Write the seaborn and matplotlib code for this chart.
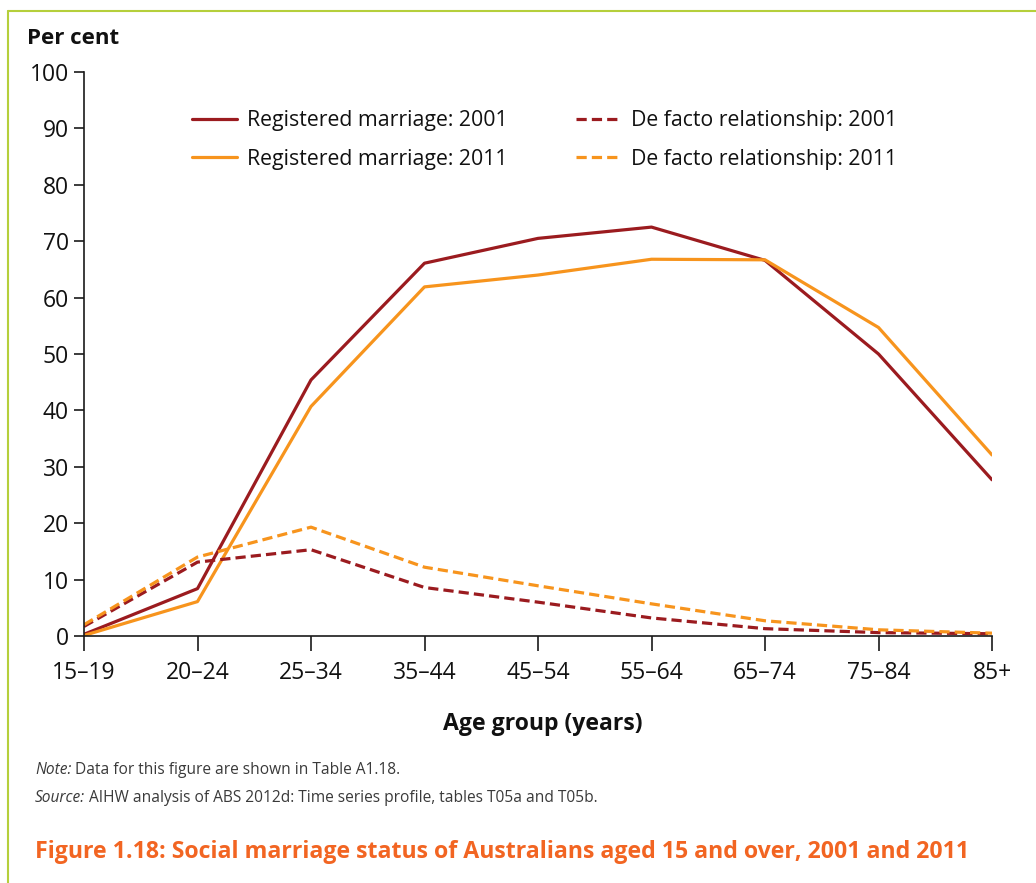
import matplotlib
matplotlib.use("Agg")
import matplotlib.pyplot as plt
from matplotlib.lines import Line2D
import seaborn as sns

sns.set_theme(style="white")
plt.rcParams["font.family"] = ["Open Sans", "DejaVu Sans"]

age_groups = ["15–19", "20–24", "25–34", "35–44", "45–54", "55–64", "65–74", "75–84", "85+"]
married_2001 = [0.3, 8.4, 45.4, 66.1, 70.5, 72.5, 66.6, 50.0, 27.7]
married_2011 = [0.1, 6.1, 40.7, 61.9, 64.0, 66.8, 66.7, 54.7, 32.1]
defacto_2001 = [1.7, 13.1, 15.3, 8.6, 6.0, 3.2, 1.3, 0.6, 0.4]
defacto_2011 = [2.0, 14.0, 19.3, 12.2, 8.9, 5.7, 2.7, 1.1, 0.5]

RED = "#9b1b1f"
ORANGE = "#f7941d"
W, H = 1036, 883

fig = plt.figure(figsize=(W / 100, H / 100), dpi=100)
ax = fig.add_axes([84 / W, 1 - 636 / H, (992 - 84) / W, (636 - 72) / H])

series = [
    (married_2001, RED, "-", "Registered marriage: 2001"),
    (married_2011, ORANGE, "-", "Registered marriage: 2011"),
    (defacto_2001, RED, "--", "De facto relationship: 2001"),
    (defacto_2011, ORANGE, "--", "De facto relationship: 2011"),
]
for vals, col, ls, lab in series:
    sns.lineplot(x=age_groups, y=vals, ax=ax, color=col, linewidth=2.3,
                 label=lab, sort=False)
    if ls == "--":
        ax.lines[-1].set_dashes((3.2, 1.6))

ax.set_xlim(0, len(age_groups) - 1)
ax.set_ylim(0, 100)
ax.set_yticks(range(0, 101, 10))
for s in ["top", "right"]:
    ax.spines[s].set_visible(False)
for s in ["left", "bottom"]:
    ax.spines[s].set_color("#1a1a1a")
    ax.spines[s].set_linewidth(1.2)
ax.tick_params(axis="y", direction="out", length=7, width=1.2, color="#1a1a1a",
               labelsize=16.5, pad=4, left=True, labelcolor="#111111")
ax.tick_params(axis="x", direction="out", length=11, width=1.2, color="#1a1a1a",
               labelsize=16.5, pad=7, bottom=True, labelcolor="#111111")
ax.set_xlabel("")
ax.set_ylabel("")

handles, labels = ax.get_legend_handles_labels()
leg = ax.legend(handles, labels, ncol=2, frameon=False, fontsize=15.3,
                loc="upper left", bbox_to_anchor=(0.098, 0.966),
                handlelength=2.1, handletextpad=0.5, columnspacing=3.2,
                labelspacing=0.82, labelcolor="#111111")
for line in leg.get_lines():
    line.set_linewidth(2.3)

fig.text(27 / W, 1 - 38 / H, "Per cent", fontsize=16, fontweight="bold",
         va="center", ha="left", color="#111111")
fig.text(543 / W, 1 - 724 / H, "Age group (years)", fontsize=16.6,
         fontweight="bold", va="center", ha="center", color="#111111")

# notes: italic lead-in, then the plain remainder placed right after it
renderer = fig.canvas.get_renderer()
note_kw = dict(fontsize=11.2, color="#3a3a3a", va="center", ha="left")
for y, lead, rest in [
    (770, "Note:", "Data for this figure are shown in Table A1.18."),
    (798, "Source:", "AIHW analysis of ABS 2012d: Time series profile, tables T05a and T05b."),
]:
    t = fig.text(35 / W, 1 - y / H, lead, style="italic", **note_kw)
    x_end = t.get_window_extent(renderer).x1
    fig.text((x_end + 4) / W, 1 - y / H, rest, **note_kw)

fig.text(35 / W, 1 - 852 / H,
         "Figure 1.18: Social marriage status of Australians aged 15 and over, 2001 and 2011",
         fontsize=16.7, fontweight="bold", color="#f26522", va="center", ha="left")

# light green frame (top and left edges are visible in the original)
green = "#b5cf3b"
fig.add_artist(Line2D([8 / W, 1], [1 - 11 / H, 1 - 11 / H], color=green,
                      linewidth=1.5, transform=fig.transFigure))
fig.add_artist(Line2D([8 / W, 8 / W], [0, 1 - 11 / H], color=green,
                      linewidth=1.5, transform=fig.transFigure))

fig.savefig("out.png", dpi=100, facecolor="white")
